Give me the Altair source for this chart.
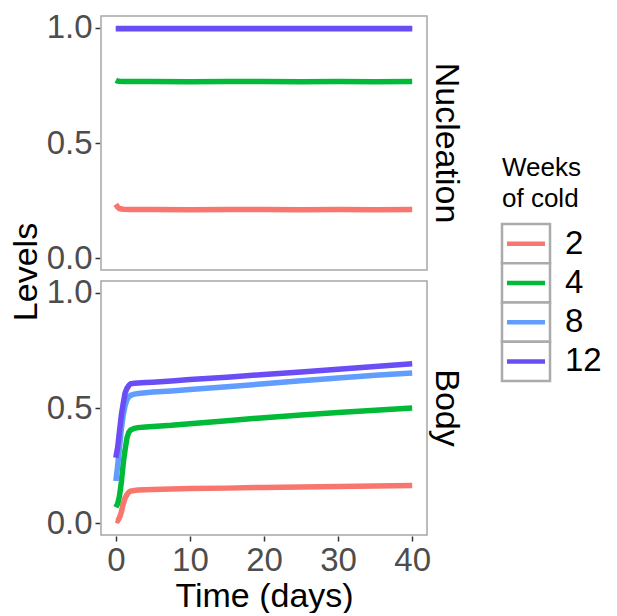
import altair as alt
import pandas as pd

FONT = "Liberation Sans"

weeks = ["2", "4", "8", "12"]
colors = ["#F8766D", "#00BA38", "#619CFF", "#6A4DF5"]
panels = ["Nucleation", "Body"]

# Nucleation panel
t_nuc = [0, 0.25, 0.5, 1, 2, 5, 10, 15, 20, 25, 30, 35, 40]
nuc_2 = [0.235, 0.222, 0.216, 0.213, 0.212, 0.212, 0.211, 0.212, 0.212, 0.211, 0.212, 0.211, 0.212]
nuc_4 = [0.772, 0.768, 0.767, 0.766, 0.766, 0.766, 0.765, 0.766, 0.766, 0.765, 0.766, 0.765, 0.766]
nuc_8 = [0.995, 0.995, 0.995, 0.995, 0.995, 0.995, 0.995, 0.995, 0.995, 0.995, 0.995, 0.995, 0.995]
nuc_12 = [0.996, 0.996, 0.996, 0.996, 0.996, 0.996, 0.996, 0.996, 0.996, 0.996, 0.996, 0.996, 0.996]

# Body panel
t_body = [0, 0.25, 0.5, 0.75, 1, 1.25, 1.5, 1.75, 2, 2.5, 3, 4, 5, 7.5, 10, 15, 20, 25, 30, 35, 40]
body_2 = [0.015, 0.012, 0.025, 0.05, 0.085, 0.11, 0.125, 0.135, 0.14, 0.143, 0.145, 0.146, 0.147, 0.149, 0.151, 0.153, 0.156, 0.158, 0.16, 0.162, 0.164]
body_4 = [0.07, 0.085, 0.12, 0.18, 0.26, 0.32, 0.37, 0.395, 0.405, 0.412, 0.415, 0.418, 0.42, 0.425, 0.432, 0.445, 0.458, 0.47, 0.48, 0.49, 0.50]
body_8 = [0.184, 0.25, 0.33, 0.41, 0.47, 0.51, 0.535, 0.548, 0.555, 0.56, 0.563, 0.566, 0.569, 0.574, 0.58, 0.592, 0.605, 0.618, 0.63, 0.642, 0.652]
body_12 = [0.285, 0.33, 0.40, 0.47, 0.52, 0.565, 0.585, 0.597, 0.605, 0.607, 0.608, 0.61, 0.612, 0.617, 0.623, 0.633, 0.645, 0.656, 0.668, 0.68, 0.692]

rows = []
for w, series in zip(weeks, [nuc_2, nuc_4, nuc_8, nuc_12]):
    for t, v in zip(t_nuc, series):
        rows.append({"time": t, "level": v, "weeks": w, "panel": "Nucleation"})
for w, series in zip(weeks, [body_2, body_4, body_8, body_12]):
    for t, v in zip(t_body, series):
        rows.append({"time": t, "level": v, "weeks": w, "panel": "Body"})
df = pd.DataFrame(rows)

color_scale = alt.Scale(domain=weeks, range=colors)

base = alt.Chart(df).mark_line(strokeWidth=5.5).encode(
    x=alt.X("time:Q", scale=alt.Scale(domain=[-2, 42], nice=False, zero=False),
            axis=alt.Axis(values=[0, 10, 20, 30, 40], title="Time (days)")),
    y=alt.Y("level:Q", scale=alt.Scale(domain=[-0.05, 1.05], nice=False),
            axis=alt.Axis(values=[0, 0.5, 1], format=".1f", title=None)),
    color=alt.Color("weeks:N", scale=color_scale, sort=weeks, legend=None),
    order=alt.Order("time:Q"),
).properties(width=326, height=254)

fac = base.facet(
    row=alt.Row("panel:N", sort=panels,
                header=alt.Header(title=None,
                                  labelOrient="right", labelAngle=90,
                                  labelFontSize=34, labelFont=FONT, labelColor="black",
                                  labelPadding=1)),
    spacing=9,
)

# y-axis title shared by both panels
ytitle_df = pd.DataFrame({"title": ["Levels"]})
ytitle = alt.Chart(ytitle_df).mark_text(angle=270, baseline="top", align="center",
                                        fontSize=34, font=FONT, color="black").encode(
    x=alt.value(1), y=alt.value(256), text="title:N"
).properties(width=30, height=517, view=alt.ViewBackground(stroke=None))

LX = 37
leg_df = pd.DataFrame({"weeks": weeks})
yenc = alt.Y("weeks:N", sort=weeks, axis=None,
             scale=alt.Scale(range=[208, 365], paddingInner=0, paddingOuter=0))
boxes = alt.Chart(leg_df).mark_rect(fill="white", stroke="#ABABAB", strokeWidth=2.5).encode(
    y=yenc, x=alt.value(LX), x2=alt.value(LX + 48))
lines = alt.Chart(leg_df).mark_rule(strokeWidth=4.5).encode(
    y=yenc, x=alt.value(LX + 5), x2=alt.value(LX + 43),
    color=alt.Color("weeks:N", scale=color_scale, sort=weeks, legend=None))
labels = alt.Chart(leg_df).mark_text(align="left", baseline="middle", fontSize=33,
                                     font=FONT, color="black").encode(
    y=yenc, x=alt.value(LX + 63), text="weeks:N")
title_df = pd.DataFrame({"title": ["Weeks\nof cold"]})
title = alt.Chart(title_df).mark_text(align="left", baseline="top", fontSize=26, font=FONT,
                                      lineBreak="\n", lineHeight=31, color="black").encode(
    x=alt.value(LX), y=alt.value(139), text="title:N")

legend = alt.layer(boxes, lines, labels, title).properties(
    width=132, height=517, view=alt.ViewBackground(stroke=None))

chart = alt.hconcat(ytitle, fac, legend, spacing=2).configure(
    padding={"left": 1, "top": 3, "right": 0, "bottom": 0},
).configure_view(
    stroke="#A6A6A6", strokeWidth=1.5
).configure_axis(
    grid=False, domain=False, tickColor="#333333", tickWidth=1.5, tickSize=5,
    labelFont=FONT, titleFont=FONT, labelFontSize=33, titleFontSize=34,
    labelColor="#4D4D4D", titleColor="black", titleFontWeight="normal",
    labelPadding=3, titlePadding=2,
)

chart.save("out.html", embed_options={"renderer": "svg", "actions": False})
